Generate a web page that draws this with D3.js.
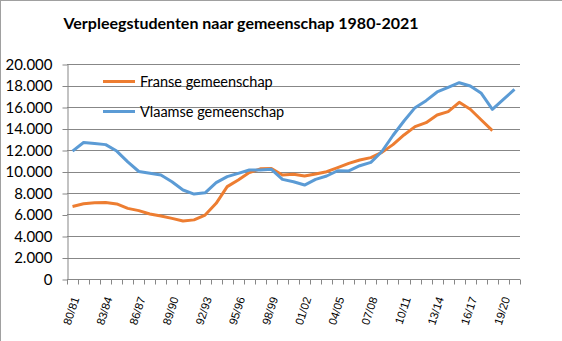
<!DOCTYPE html>
<html>
<head>
<meta charset="utf-8">
<script src="https://cdn.jsdelivr.net/npm/d3@7"></script>
<style>
  html, body { margin: 0; padding: 0; background: #fff; }
  svg { display: block; }
</style>
</head>
<body>
<svg id="chart" width="562" height="341"></svg>
<script>
const title = "Verpleegstudenten naar gemeenschap 1980-2021";
const categories = ["80/81","81/82","82/83","83/84","84/85","85/86","86/87","87/88","88/89","89/90",
  "90/91","91/92","92/93","93/94","94/95","95/96","96/97","97/98","98/99","99/00",
  "00/01","01/02","02/03","03/04","04/05","05/06","06/07","07/08","08/09","09/10",
  "10/11","11/12","12/13","13/14","14/15","15/16","16/17","17/18","18/19","19/20","20/21"];
const shownLabels = ["80/81","83/84","86/87","89/90","92/93","95/96","98/99","01/02","04/05","07/08","10/11","13/14","16/17","19/20"];
const seriesNames = ["Franse gemeenschap", "Vlaamse gemeenschap"];
const franse = [6750, 7000, 7100, 7120, 6980, 6570, 6360, 6050, 5860, 5640,
  5400, 5500, 5950, 7040, 8590, 9210, 9900, 10250, 10280, 9670,
  9740, 9580, 9770, 9980, 10360, 10760, 11070, 11290, 11780, 12500,
  13400, 14170, 14540, 15260, 15570, 16440, 15790, 14790, 13800, null, null];
const vlaamse = [11900, 12700, 12600, 12500, 11900, 10900, 10000, 9830, 9670, 9050,
  8280, 7900, 8020, 8960, 9520, 9830, 10140, 10140, 10200, 9270,
  9050, 8740, 9270, 9580, 10070, 10050, 10540, 10850, 11860, 13350,
  14700, 15940, 16590, 17400, 17830, 18260, 17950, 17270, 15780, 16710, 17640];
const yTicks = [0, 2000, 4000, 6000, 8000, 10000, 12000, 14000, 16000, 18000, 20000];

const colors = ["#ED7D31", "#5B9BD5"];
const svg = d3.select("#chart");

// border (top & left)
svg.append("line").attr("x1", 0).attr("x2", 562).attr("y1", 0.5).attr("y2", 0.5).attr("stroke", "#a0a0a0");
svg.append("line").attr("x1", 0.5).attr("x2", 0.5).attr("y1", 0).attr("y2", 341).attr("stroke", "#a0a0a0");

const x = d3.scaleBand().domain(categories).range([67, 520]).paddingInner(0).paddingOuter(0);
const y = d3.scaleLinear().domain([0, 20000]).range([279, 64]);

const loc = d3.formatLocale({decimal: ",", thousands: ".", grouping: [3], currency: ["", ""]});
const fmt = loc.format(",");

// gridlines
svg.append("g").selectAll("line").data(yTicks.filter(d => d > 0)).join("line")
  .attr("x1", 67).attr("x2", 520)
  .attr("y1", d => Math.round(y(d)) + 0.5).attr("y2", d => Math.round(y(d)) + 0.5)
  .attr("stroke", "#878787").attr("stroke-width", 1);

// y axis
const yAxis = svg.append("g").attr("transform", "translate(67.5,0.5)")
  .call(d3.axisLeft(y).tickValues(yTicks).tickFormat(fmt).tickSize(5).tickSizeOuter(0));
yAxis.select(".domain").attr("stroke", "#878787");
yAxis.selectAll(".tick line").attr("stroke", "#878787");
yAxis.selectAll(".tick text").attr("x", -15).attr("font-family", "Lato, 'Open Sans', sans-serif")
  .attr("font-size", "15px").attr("fill", "#000");

// x axis
const xAxisG = svg.append("g").attr("transform", "translate(0,279.5)");
xAxisG.append("line").attr("x1", 67).attr("x2", 520).attr("stroke", "#878787");
const tickPos = categories.map(c => x(c)).concat([x.range()[1]]);
xAxisG.selectAll("line.tk").data(tickPos).join("line").attr("class", "tk")
  .attr("x1", d => Math.round(d) + 0.5).attr("x2", d => Math.round(d) + 0.5)
  .attr("y1", 0).attr("y2", 5).attr("stroke", "#878787");
xAxisG.selectAll("text").data(shownLabels).join("text")
  .attr("transform", d => `translate(${x(d) + x.bandwidth() / 2 + 4},${18}) rotate(-72)`)
  .attr("text-anchor", "end").attr("dominant-baseline", "middle")
  .attr("font-family", "'Liberation Sans', Arial, sans-serif").attr("font-size", "11.5px").attr("fill", "#000")
  .text(d => d);

// lines
const line = d3.line()
  .defined(d => d != null)
  .x((d, i) => x(categories[i]) + x.bandwidth() / 2)
  .y(d => y(d))
  .curve(d3.curveLinear);

[franse, vlaamse].forEach((s, k) => {
  svg.append("path").datum(s).attr("d", line).attr("fill", "none")
    .attr("stroke", colors[k]).attr("stroke-width", 3).attr("stroke-linejoin", "round");
});

// legend
const legY = [81.5, 111.5];
seriesNames.forEach((n, k) => {
  svg.append("line").attr("x1", 103).attr("x2", 135).attr("y1", legY[k]).attr("y2", legY[k])
    .attr("stroke", colors[k]).attr("stroke-width", 3);
  svg.append("text").attr("x", 140).attr("y", legY[k] + 5)
    .attr("font-family", "Lato, 'Open Sans', sans-serif").attr("font-size", "14.5px").attr("fill", "#000")
    .text(n);
});

// title
svg.append("text").attr("x", 241).attr("y", 29).attr("text-anchor", "middle")
  .attr("font-family", "Lato, 'Open Sans', sans-serif").attr("font-weight", "bold").attr("font-size", "16px")
  .attr("fill", "#000").text(title);
</script>
</body>
</html>
